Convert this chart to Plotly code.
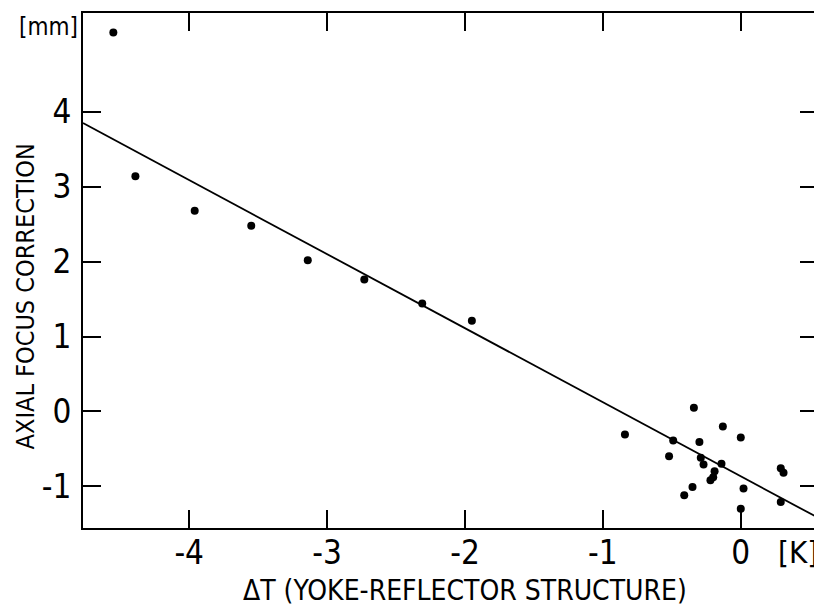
import plotly.graph_objects as go

# measured points: temperature difference [K] vs axial focus correction [mm]
dT = [-4.55, -4.39, -3.96, -3.55, -3.14, -2.73, -2.31, -1.95,
      -0.84, -0.34, -0.13, 0.00, -0.49, -0.30, -0.52, -0.29,
      -0.27, -0.14, -0.19, -0.20, -0.22, 0.29, 0.31, 0.02,
      -0.35, -0.41, 0.00, 0.29]
focus = [5.06, 3.14, 2.68, 2.48, 2.02, 1.76, 1.44, 1.21,
         -0.31, 0.05, -0.20, -0.35, -0.39, -0.41, -0.60, -0.62,
         -0.71, -0.70, -0.80, -0.88, -0.92, -0.76, -0.82, -1.03,
         -1.01, -1.12, -1.30, -1.21]

# fitted straight line (end points at the frame edges)
fit_x = [-4.77, 0.56]
fit_y = [3.85, -1.42]

x_ticks = [-4, -3, -2, -1, 0]
y_ticks = [-1, 0, 1, 2, 3, 4]

FONT = "DejaVu Sans Condensed, Liberation Sans Narrow, sans-serif"

fig = go.Figure()
fig.add_scatter(x=fit_x, y=fit_y, mode="lines",
                line=dict(color="black", width=1.8))
fig.add_scatter(x=dT, y=focus, mode="markers",
                marker=dict(color="black", size=8))

axis_style = dict(
    showline=True,
    linecolor="black",
    linewidth=2,
    mirror="allticks",
    ticks="inside",
    ticklen=18,
    tickwidth=2,
    tickcolor="black",
    showgrid=False,
    zeroline=False,
    tickfont=dict(family=FONT, size=33, color="black"),
)

fig.update_xaxes(range=[-4.77, 0.56], tickvals=x_ticks,
                 ticktext=[str(v) for v in x_ticks],
                 ticklabelstandoff=-6, **axis_style)
fig.update_yaxes(range=[-1.557, 5.32], tickvals=y_ticks,
                 ticktext=[str(v) for v in y_ticks],
                 ticklabelstandoff=3, **axis_style)

fig.add_annotation(text="\u0394T (YOKE-REFLECTOR STRUCTURE)", xref="paper", yref="paper",
                   x=0.52, y=-0.121, showarrow=False, xanchor="center", yanchor="middle",
                   font=dict(family=FONT, size=28, color="black"))
fig.add_annotation(text="AXIAL FOCUS CORRECTION", xref="paper", yref="paper",
                   x=-0.0787, y=0.45, showarrow=False, textangle=-90,
                   xanchor="center", yanchor="middle",
                   font=dict(family=FONT, size=25, color="black"))
fig.add_annotation(text="[K]", xref="paper", yref="paper",
                   x=0.973, y=-0.046, showarrow=False, xanchor="center", yanchor="middle",
                   font=dict(family=FONT, size=31, color="black"))
fig.add_annotation(text="[mm]", xref="paper", yref="paper",
                   x=-0.004, y=0.972, showarrow=False, xanchor="right", yanchor="middle",
                   font=dict(family=FONT, size=24, color="black"))

# page body adds an 8px margin, so the figure is sized to fit the window after it
fig.update_layout(
    width=814,
    height=600,
    margin=dict(l=75, r=2, t=5, b=80),
    showlegend=False,
    plot_bgcolor="white",
    paper_bgcolor="white",
    font=dict(family=FONT, color="black"),
)

fig.write_html("out.html")
